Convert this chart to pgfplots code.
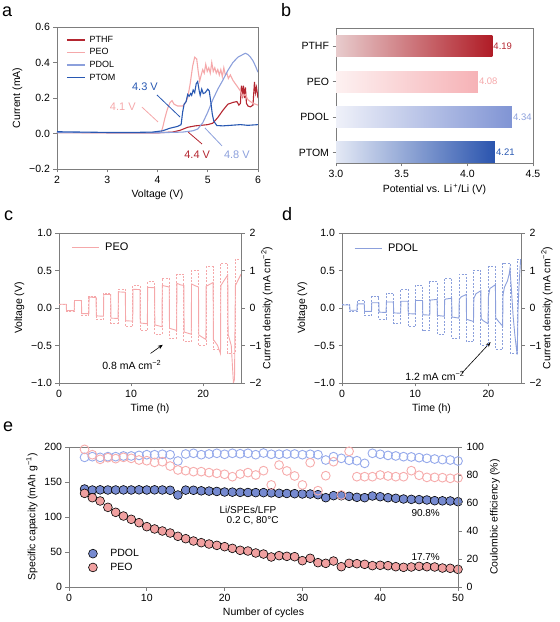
\documentclass[border=0pt]{standalone}
\usepackage{fontspec}
\setmainfont{Liberation Sans}
\usepackage{pgfplots}
\pgfplotsset{compat=1.18}
\usetikzlibrary{arrows.meta}
\definecolor{cPTHF}{RGB}{180,38,48}
\definecolor{cPEO}{RGB}{245,168,170}
\definecolor{cPDOL}{RGB}{140,160,220}
\definecolor{cPTOM}{RGB}{40,88,178}
\definecolor{frm}{RGB}{125,125,125}
\definecolor{fPDOL}{RGB}{118,138,208}
\definecolor{fPEO}{RGB}{240,160,160}
\definecolor{oPDOL}{RGB}{150,170,235}
\definecolor{oPEO}{RGB}{246,172,172}
\pgfplotsset{
  panel/.style={scale only axis, anchor=south west,
    axis line style={frm, line width=0.8pt},
    tick style={frm, line width=0.8pt}, major tick length=3.5pt,
    tick align=outside, tick pos=left,
    tick label style={font=\fontsize{10.5}{12}\selectfont, text=black},
    label style={font=\fontsize{10.5}{12}\selectfont},
    /pgf/number format/assume math mode=true},
  twin/.style={panel, axis y line*=right, axis x line=none,
    ytick pos=right, yticklabel pos=right,
    yticklabel style={xshift=1.5pt}},
}
\newcommand{\plab}[1]{\fontsize{18}{20}\selectfont #1}
\newcommand{\lab}{\fontsize{10.5}{12}\selectfont}
\begin{document}
\begin{tikzpicture}[x=1pt,y=1pt]
\path[use as bounding box] (0,0) rectangle (560,622);
\node[anchor=base west, inner sep=0pt] at (2,605) {\plab{a}};
\node[anchor=base west, inner sep=0pt] at (281,605) {\plab{b}};
\node[anchor=base west, inner sep=0pt] at (4,401) {\plab{c}};
\node[anchor=base west, inner sep=0pt] at (282,401) {\plab{d}};
\node[anchor=base west, inner sep=0pt] at (3,190) {\plab{e}};

% ---------------- panel a
\begin{axis}[panel, at={(57pt,453pt)}, width=201pt, height=142pt,
  xmin=2, xmax=6, ymin=-0.2, ymax=0.6,
  xtick={2,3,4,5,6}, ytick={-0.2,0,0.2,0.4,0.6},
  yticklabels={−0.2,0.0,0.2,0.4,0.6},
  xlabel={Voltage (V)}, ylabel={Current (mA)},
  legend style={draw=none, fill=none, at={(0.03,0.965)}, anchor=north west,
    font=\fontsize{9}{10}\selectfont, row sep=0.8pt, column sep=2pt},
  legend cell align=left,
  legend image code/.code={\draw[#1, line width=1.4pt] (0pt,0pt) -- (18pt,0pt);}]
\addplot[cPTHF, line width=1.1pt] coordinates {
(2.0,0.005)(4.0,0.004)(4.3,0.008)(4.45,0.018)(4.6,0.035)(4.75,0.043)(4.9,0.047)
(5.0,0.05)(5.1,0.058)(5.2,0.09)(5.3,0.13)(5.4,0.165)(5.5,0.175)(5.58,0.18)
(5.62,0.16)(5.65,0.17)(5.67,0.27)(5.69,0.22)(5.71,0.27)(5.73,0.2)(5.75,0.26)
(5.77,0.17)(5.8,0.155)(5.85,0.15)(5.9,0.16)(5.93,0.29)(5.95,0.23)(5.97,0.26)(6.0,0.2)};
\addlegendentry{PTHF}
\addplot[cPEO, line width=1.1pt] coordinates {
(2.0,0.005)(4.0,0.003)(4.07,0.005)(4.1,0.03)(4.15,0.09)(4.2,0.14)(4.25,0.175)
(4.29,0.185)(4.33,0.165)(4.4,0.155)(4.5,0.155)(4.55,0.17)(4.6,0.2)(4.65,0.28)
(4.7,0.38)(4.74,0.43)(4.78,0.42)(4.81,0.35)(4.84,0.295)(4.87,0.33)(4.9,0.36)
(4.93,0.34)(4.96,0.39)(4.99,0.35)(5.02,0.37)(5.05,0.34)(5.08,0.4)(5.11,0.35)
(5.14,0.37)(5.17,0.34)(5.2,0.36)(5.23,0.33)(5.26,0.36)(5.29,0.32)(5.32,0.37)
(5.35,0.33)(5.38,0.34)(5.41,0.31)(5.45,0.33)(5.5,0.3)(5.55,0.28)(5.6,0.26)
(5.65,0.24)(5.7,0.21)(5.75,0.22)(5.8,0.19)(5.85,0.18)(5.9,0.17)(5.95,0.165)(6.0,0.16)};
\addlegendentry{PEO}
\addplot[cPDOL, line width=1.1pt] coordinates {
(2.0,0.005)(4.0,0.004)(4.5,0.008)(4.7,0.015)(4.8,0.025)(4.9,0.06)(5.0,0.12)
(5.1,0.19)(5.2,0.25)(5.3,0.30)(5.4,0.355)(5.5,0.40)(5.6,0.43)(5.7,0.445)
(5.75,0.452)(5.8,0.445)(5.85,0.43)(5.9,0.41)(5.95,0.38)(6.0,0.345)};
\addlegendentry{PDOL}
\addplot[cPTOM, line width=1.1pt] coordinates {
(2.0,0.010)(2.5,0.008)(3.0,0.006)(3.5,0.006)(3.9,0.008)(4.1,0.015)(4.25,0.03)
(4.4,0.04)(4.47,0.05)(4.5,0.12)(4.53,0.165)(4.57,0.18)(4.6,0.22)(4.63,0.21)
(4.66,0.225)(4.68,0.215)(4.71,0.245)(4.74,0.23)(4.77,0.28)(4.8,0.293)(4.83,0.24)
(4.85,0.215)(4.88,0.25)(4.91,0.225)(4.95,0.23)(5.0,0.25)(5.03,0.24)(5.06,0.18)
(5.09,0.11)(5.12,0.07)(5.18,0.045)(5.3,0.043)(5.5,0.047)(5.65,0.05)(5.8,0.046)(6.0,0.05)};
\addlegendentry{PTOM}
\draw[cPTOM, line width=0.8pt] (axis cs:3.99,0.217) -- (axis cs:4.448,0.093);
\draw[cPEO, line width=0.8pt] (axis cs:3.69,0.149) -- (axis cs:4.01,0.065);
\draw[cPTHF, line width=0.8pt] (axis cs:4.61,0.008) -- (axis cs:4.886,-0.059);
\draw[cPDOL, line width=0.8pt] (axis cs:4.945,0.031) -- (axis cs:5.284,-0.07);
\begin{scope}[every node/.style={font=\fontsize{11}{12}\selectfont, inner sep=0pt}]
\node[text=cPTOM] at (axis cs:3.75,0.262) {4.3 V};
\node[text=cPEO] at (axis cs:3.31,0.149) {4.1 V};
\node[text=cPTHF] at (axis cs:4.79,-0.121) {4.4 V};
\node[text=cPDOL] at (axis cs:5.58,-0.121) {4.8 V};
\end{scope}
\end{axis}

% ---------------- panel b
\begin{axis}[panel, at={(336pt,459pt)}, width=197pt, height=135pt,
  xmin=3, xmax=4.5, ymin=-0.3, ymax=3.52,
  xtick={3,3.5,4,4.5}, xticklabels={3.0,3.5,4.0,4.5},
  ytick={0,1,2,3}, yticklabels={PTOM,PDOL,PEO,PTHF},
  xlabel={Potential vs. Li\textsuperscript{\,+}/Li (V)}]
\addplot[draw=none, left color={rgb,255:red,232;green,204;blue,205}, right color={rgb,255:red,176;green,28;blue,38}] coordinates {(3,2.7)(4.19,2.7)(4.19,3.3)(3,3.3)} -- cycle;
\addplot[draw=none, left color={rgb,255:red,253;green,241;blue,241}, right color={rgb,255:red,246;green,178;blue,182}] coordinates {(3,1.7)(4.08,1.7)(4.08,2.3)(3,2.3)} -- cycle;
\addplot[draw=none, left color={rgb,255:red,239;green,241;blue,249}, right color={rgb,255:red,128;green,148;blue,212}] coordinates {(3,0.7)(4.34,0.7)(4.34,1.3)(3,1.3)} -- cycle;
\addplot[draw=none, left color={rgb,255:red,228;green,233;blue,245}, right color={rgb,255:red,42;green,84;blue,174}] coordinates {(3,-0.3)(4.21,-0.3)(4.21,0.3)(3,0.3)} -- cycle;
\begin{scope}[every node/.style={font=\fontsize{9.5}{11}\selectfont, inner sep=1pt, anchor=west}]
\node[text=cPTHF] at (axis cs:4.19,3) {4.19};
\node[text=cPEO] at (axis cs:4.08,2) {4.08};
\node[text=cPDOL] at (axis cs:4.34,1) {4.34};
\node[text=cPTOM] at (axis cs:4.21,0) {4.21};
\end{scope}
\end{axis}

% ---------------- panel c
\begin{axis}[panel, at={(59pt,239pt)}, width=182pt, height=150pt,
  xmin=0, xmax=25.25, ymin=-1, ymax=1, xtick={0,10,20},
  ytick={-1,-0.5,0,0.5,1}, yticklabels={−1.0,−0.5,0.0,0.5,1.0},
  xlabel={Time (h)}, ylabel={Voltage (V)},
  legend style={draw=none, fill=none, at={(0.05,0.965)}, anchor=north west,
    font=\fontsize{11}{12}\selectfont, column sep=4pt},
  legend image code/.code={\draw[#1] (0pt,0pt) -- (27pt,0pt);}]
\addplot[cPEO, line width=0.9pt] coordinates {
(0,0.05)(1.0,0.05)(1.04,-0.035)(2.11,-0.035)(2.15,0.10)(3.11,0.10)(3.15,-0.075)
(4.14,-0.075)(4.18,0.145)(5.14,0.14)(5.18,-0.105)(6.17,-0.11)(6.21,0.18)(7.17,0.18)
(7.21,-0.135)(8.20,-0.14)(8.24,0.215)(9.20,0.21)(9.24,-0.17)(10.23,-0.175)(10.27,0.25)
(11.23,0.245)(11.27,-0.20)(12.26,-0.21)(12.30,0.275)(13.26,0.27)(13.30,-0.225)
(14.29,-0.25)(14.33,0.30)(15.29,0.28)(15.33,-0.27)(16.32,-0.30)(16.36,0.33)(16.8,0.31)
(17.32,0.30)(17.36,-0.32)(18.35,-0.35)(18.39,0.32)(18.8,0.30)(19.35,0.28)(19.39,-0.36)
(20.38,-0.42)(20.42,0.29)(21.38,0.34)(21.42,-0.42)(22.0,-0.5)(22.41,-0.61)(22.45,0.30)
(23.41,0.44)(23.46,-0.35)(23.9,-0.5)(24.2,-1.0)(24.35,-0.95)(24.47,0.30)(25.25,0.45)};
\addlegendentry{PEO}
\draw[-{Stealth[length=5pt,width=4pt]}, line width=0.6pt] (axis cs:12.7,-0.606) -- (axis cs:14.4,-0.49);
\node[font=\fontsize{10.5}{12}\selectfont] at (axis cs:10.1,-0.755) {0.8 mA cm\textsuperscript{−2}};
\end{axis}
\begin{axis}[twin, at={(59pt,239pt)}, width=182pt, height=150pt,
  xmin=0, xmax=25.25, ymin=-2, ymax=2,
  ytick={-2,-1,0,1,2}, yticklabels={−2,−1,0,1,2}]
\addplot[cPEO, line width=0.7pt, dash pattern=on 2pt off 1.5pt] coordinates {
(0,0.1)(1.0,0.1)(1.0,-0.1)(2.11,-0.1)(2.11,0.2)(3.11,0.2)(3.11,-0.2)(4.14,-0.2)
(4.14,0.3)(5.14,0.3)(5.14,-0.3)(6.17,-0.3)(6.17,0.4)(7.17,0.4)(7.17,-0.4)(8.20,-0.4)
(8.20,0.5)(9.20,0.5)(9.20,-0.5)(10.23,-0.5)(10.23,0.6)(11.23,0.6)(11.23,-0.6)(12.26,-0.6)
(12.26,0.7)(13.26,0.7)(13.26,-0.7)(14.29,-0.7)(14.29,0.8)(15.29,0.8)(15.29,-0.8)(16.32,-0.8)
(16.32,0.9)(17.32,0.9)(17.32,-0.9)(18.35,-0.9)(18.35,1.0)(19.35,1.0)(19.35,-1.0)(20.38,-1.0)
(20.38,1.1)(21.38,1.1)(21.38,-1.1)(22.41,-1.1)(22.41,1.2)(23.41,1.2)(23.41,-1.2)(24.44,-1.2)
(24.44,1.3)(25.44,1.3)};
\end{axis}
\node[rotate=90, font=\lab] at (267,314) {Current density (mA cm\textsuperscript{−2})};

% ---------------- panel d
\begin{axis}[panel, at={(342pt,239pt)}, width=179pt, height=150pt,
  xmin=0, xmax=24.45, ymin=-1, ymax=1, xtick={0,10,20},
  ytick={-1,-0.5,0,0.5,1}, yticklabels={−1.0,−0.5,0.0,0.5,1.0},
  xlabel={Time (h)}, ylabel={Voltage (V)},
  legend style={draw=none, fill=none, at={(0.05,0.955)}, anchor=north west,
    font=\fontsize{11}{12}\selectfont, column sep=4pt},
  legend image code/.code={\draw[#1] (0pt,0pt) -- (27pt,0pt);}]
\addplot[cPDOL, line width=0.9pt] coordinates {
(0,0.04)(1.05,0.04)(1.09,-0.03)(2.04,-0.03)(2.08,0.055)(3.04,0.055)(3.08,-0.045)
(4.03,-0.045)(4.07,0.07)(5.03,0.07)(5.07,-0.055)(6.02,-0.06)(6.06,0.08)(7.02,0.08)
(7.06,-0.065)(8.01,-0.07)(8.05,0.09)(9.01,0.09)(9.05,-0.075)(10.0,-0.08)(10.04,0.10)
(11.0,0.10)(11.04,-0.09)(11.99,-0.095)(12.03,0.105)(12.99,0.115)(13.03,-0.10)
(13.98,-0.11)(14.02,0.11)(14.2,0.12)(14.98,0.13)(15.02,-0.12)(15.97,-0.135)(16.02,0.12)
(16.3,0.15)(16.97,0.18)(17.01,-0.15)(17.96,-0.18)(18.01,0.13)(18.3,0.19)(18.96,0.23)
(19.0,-0.14)(19.3,-0.17)(19.95,-0.21)(20.0,0.15)(20.2,0.26)(20.95,0.31)(21.0,-0.13)
(21.3,-0.17)(21.94,-0.24)(22.0,0.18)(22.2,0.28)(22.6,0.36)(22.85,0.46)(22.94,0.52)
(23.14,0.25)(23.37,-0.1)(23.6,-0.35)(23.83,-0.55)(23.93,-0.62)(24.05,0.0)(24.2,0.34)
(24.4,0.65)(24.45,0.6)};
\addlegendentry{PDOL}
\draw[-{Stealth[length=5pt,width=4pt]}, line width=0.6pt] (axis cs:16.35,-0.87) -- (axis cs:20.3,-0.455);
\node[font=\fontsize{10.5}{12}\selectfont] at (axis cs:12.7,-0.9) {1.2 mA cm\textsuperscript{−2}};
\end{axis}
\begin{axis}[twin, at={(342pt,239pt)}, width=179pt, height=150pt,
  xmin=0, xmax=24.45, ymin=-2, ymax=2,
  ytick={-2,-1,0,1,2}, yticklabels={−2,−1,0,1,2}]
\addplot[cPDOL, line width=0.7pt, dash pattern=on 2pt off 1.5pt] coordinates {
(0,0.1)(1.05,0.1)(1.05,-0.1)(2.04,-0.1)(2.04,0.2)(3.04,0.2)(3.04,-0.2)(4.03,-0.2)
(4.03,0.3)(5.03,0.3)(5.03,-0.3)(6.02,-0.3)(6.02,0.4)(7.02,0.4)(7.02,-0.4)(8.01,-0.4)
(8.01,0.5)(9.01,0.5)(9.01,-0.5)(10.0,-0.5)(10.0,0.6)(11.0,0.6)(11.0,-0.6)(11.99,-0.6)
(11.99,0.7)(12.99,0.7)(12.99,-0.7)(13.98,-0.7)(13.98,0.8)(14.98,0.8)(14.98,-0.8)(15.97,-0.8)
(15.97,0.9)(16.97,0.9)(16.97,-0.9)(17.96,-0.9)(17.96,1.0)(18.96,1.0)(18.96,-1.0)(19.95,-1.0)
(19.95,1.1)(20.95,1.1)(20.95,-1.1)(21.94,-1.1)(21.94,1.2)(22.94,1.2)(22.94,-1.2)(23.93,-1.2)
(23.93,1.3)(24.93,1.3)};
\end{axis}
\node[rotate=90, font=\lab] at (547,314) {Current density (mA cm\textsuperscript{−2})};

% ---------------- panel e
\begin{axis}[panel, at={(69pt,35pt)}, width=389pt, height=140pt,
  xmin=0, xmax=50, ymin=0, ymax=200, xtick={0,10,20,30,40,50},
  ytick={0,50,100,150,200},
  xlabel={Number of cycles}, ylabel={Specific capacity (mAh g\textsuperscript{−1})},
  legend style={draw=none, fill=none, at={(0.042,0.30)}, anchor=north west,
    font=\fontsize{10.5}{12}\selectfont, row sep=1pt, column sep=11pt},
  legend cell align=left]
\addplot[only marks, mark=*, mark size=4.4pt, mark options={fill=fPDOL, draw=black, line width=0.6pt}] coordinates {
(2,140)(3,138.5)(4,138.8)(5,138.6)(6,138.6)(7,138.7)(8,138.6)(9,138.8)(10,138.6)
(11,138.8)(12,138.6)(13,138.2)(14,131.4)(15,138.4)(16,138.2)(17,137.4)(18,137)
(19,136.5)(20,135.7)(21,135.5)(22,135.2)(23,135)(24,134.8)(25,134.8)(26,134.5)
(27,133.8)(28,133.6)(29,133.3)(30,132.9)(31,132.8)(32,131.9)(33,127.6)(34,130.5)
(35,130.4)(36,129.5)(37,128.1)(38,127.6)(39,130)(40,129)(41,127.6)(42,126.7)
(43,125.7)(44,125.2)(45,124.8)(46,124.3)(47,123.3)(48,123.1)(49,122.9)(50,121.9)};
\addlegendentry{PDOL}
\addplot[only marks, mark=*, mark size=4.4pt, mark options={fill=fPEO, draw=black, line width=0.6pt}] coordinates {
(2,133.8)(3,127.6)(4,122.9)(5,113.8)(6,106.7)(7,101.4)(8,96.7)(9,91.9)(10,86.2)
(11,82.9)(12,80)(13,77.1)(14,72.4)(15,69)(16,65.7)(17,63.3)(18,61.4)(19,59.5)
(20,57.6)(21,55.2)(22,52.4)(23,51.4)(24,48.6)(25,47.1)(26,42.9)(27,44.8)(28,43.8)
(29,43.3)(30,37.6)(31,41)(32,34.8)(33,33.8)(34,37.1)(35,29)(36,33.8)(37,33.3)
(38,32.4)(39,30.5)(40,31)(41,30.5)(42,29)(43,28.1)(44,28.6)(45,29.5)(46,29)
(47,28.6)(48,27.1)(49,26.7)(50,25.2)};
\addlegendentry{PEO}
\begin{scope}[every node/.style={font=\fontsize{10}{12}\selectfont, inner sep=0pt}]
\node at (axis cs:23.0,110) {Li/SPEs/LFP};
\node at (axis cs:23.6,94.5) {0.2 C, 80°C};
\node at (axis cs:45.85,106) {90.8\%};
\node at (axis cs:45.85,42.9) {17.7\%};
\end{scope}
\end{axis}
\begin{axis}[twin, at={(69pt,35pt)}, width=389pt, height=140pt,
  xmin=0, xmax=50, ymin=0, ymax=100, ytick={0,20,40,60,80,100}]
\addplot[only marks, mark=o, mark size=4.4pt, mark options={draw=oPDOL, line width=0.9pt}] coordinates {
(2,92.6)(3,93.1)(4,92.6)(5,93.1)(6,93.1)(7,93.6)(8,93.6)(9,94)(10,94.5)(11,94.5)
(12,94.8)(13,94.5)(14,90)(15,95)(16,95.5)(17,94.5)(18,95)(19,95.5)(20,94.8)(21,95.5)
(22,95.2)(23,95.5)(24,94.5)(25,95.7)(26,94.8)(27,94.8)(28,95)(29,95)(30,94.5)(31,94.8)
(32,94.5)(33,90.7)(34,93.1)(35,91.9)(36,90.5)(37,90.2)(38,88.3)(39,95.5)(40,94.8)
(41,94)(42,93.6)(43,93.1)(44,92.9)(45,92.4)(46,91.9)(47,91.4)(48,91)(49,90.7)(50,90)};
\addplot[only marks, mark=o, mark size=4.4pt, mark options={draw=oPEO, line width=0.9pt}] coordinates {
(2,98.3)(3,94.5)(4,91.2)(5,92.4)(6,91.7)(7,92.6)(8,91.9)(9,90.7)(10,90.2)(11,89)
(12,89.5)(13,86.4)(14,83.6)(15,83.1)(16,82.4)(17,82.4)(18,81.7)(19,81.2)(20,80.5)
(21,78.8)(22,80.7)(23,81.7)(24,80)(25,83.1)(26,72.9)(27,87.1)(28,82.9)(29,79.3)
(30,72.9)(31,88.8)(32,68.8)(33,79.5)(34,89.5)(35,65.7)(36,96.9)(37,78.8)(38,78.8)
(39,78.8)(40,80)(41,79.3)(42,78.8)(43,78.8)(44,83.1)(45,79.8)(46,78.3)(47,78.3)
(48,78.1)(49,77.6)(50,77.9)};
\end{axis}
\node[rotate=90, font=\lab] at (495,105) {Coulombic efficiency (\%)};
\end{tikzpicture}
\end{document}
